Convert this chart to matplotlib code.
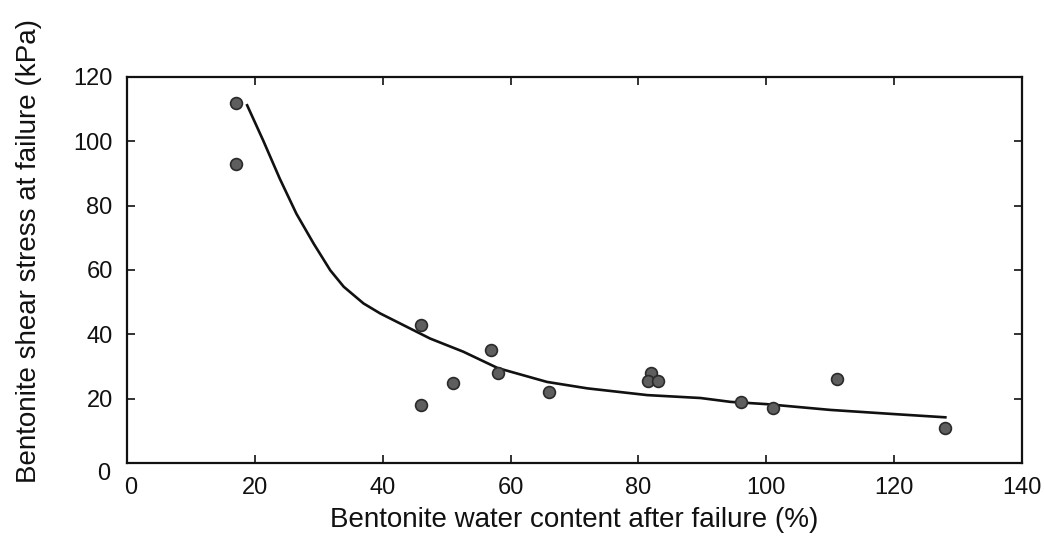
import matplotlib
matplotlib.use('Agg')
import matplotlib.pyplot as plt
from matplotlib.transforms import ScaledTranslation

plt.rcParams['font.family'] = ['Liberation Sans', 'DejaVu Sans']

# measured points: water content (%) vs shear stress (kPa)
water = [17, 17, 46, 46, 51, 57, 58, 66, 82, 81.5, 83, 96, 101, 111, 128]
stress = [112, 93, 43, 18, 25, 35, 28, 22, 28, 25.5, 25.5, 19, 17, 26, 11]

# fitted trend line
fit_x = [18.8, 21.3, 23.9, 26.5, 29.2, 31.8, 33.9, 37, 39.6, 43.2, 47.4,
         52.6, 58, 65.7, 72, 81.4, 89.7, 94.4, 100, 110, 120, 128]
fit_y = [111.2, 100.3, 88.4, 77.5, 68.2, 59.9, 54.8, 49.6, 46.5, 42.9, 38.7,
         34.6, 29.5, 25.2, 23.2, 21.1, 20.2, 19, 18.3, 16.5, 15.2, 14.2]

xticks = [0, 20, 40, 60, 80, 100, 120, 140]
yticks = [0, 20, 40, 60, 80, 100, 120]

fig = plt.figure(figsize=(10.44, 5.41), dpi=100)
fig.subplots_adjust(left=0.1216, right=0.979, top=0.8577, bottom=0.1442)
sub = fig.add_subplot(1, 1, 1)

sub.plot(fit_x, fit_y, linestyle='-', color='#111111', linewidth=1.9,
         solid_joinstyle='round', zorder=2)
sub.plot(water, stress, linestyle='none', marker='o', markersize=8.5,
         markerfacecolor='#5e5e5e', markeredgecolor='#2a2a2a', markeredgewidth=1.2, zorder=3)

sub.set_xlim(0, 140)
sub.set_ylim(0, 120)
sub.set_xticks(xticks)
sub.set_yticks(yticks)
sub.tick_params(direction='in', length=6, width=1.2, top=True, right=True,
                labelsize=17, colors='#111111')
sub.tick_params(axis='x', pad=10)
sub.tick_params(axis='y', pad=10.3)
for s in sub.spines.values():
    s.set_linewidth(1.6)
    s.set_color('#111111')

# the two zeros at the corner sit slightly apart, as in the original
ylab0 = sub.get_yticklabels()[0]
ylab0.set_transform(ylab0.get_transform() + ScaledTranslation(-2/100, -9/100, fig.dpi_scale_trans))
xlab0 = sub.get_xticklabels()[0]
xlab0.set_transform(xlab0.get_transform() + ScaledTranslation(4/100, 0, fig.dpi_scale_trans))

sub.set_xlabel('Bentonite water content after failure (%)', fontsize=20, color='#111111')
sub.xaxis.set_label_coords(0.5, -0.115)
sub.set_ylabel('Bentonite shear stress at failure (kPa)', fontsize=20, color='#111111')
sub.yaxis.set_label_coords(-0.095, 0.55)

fig.savefig('out.png', dpi=100)
